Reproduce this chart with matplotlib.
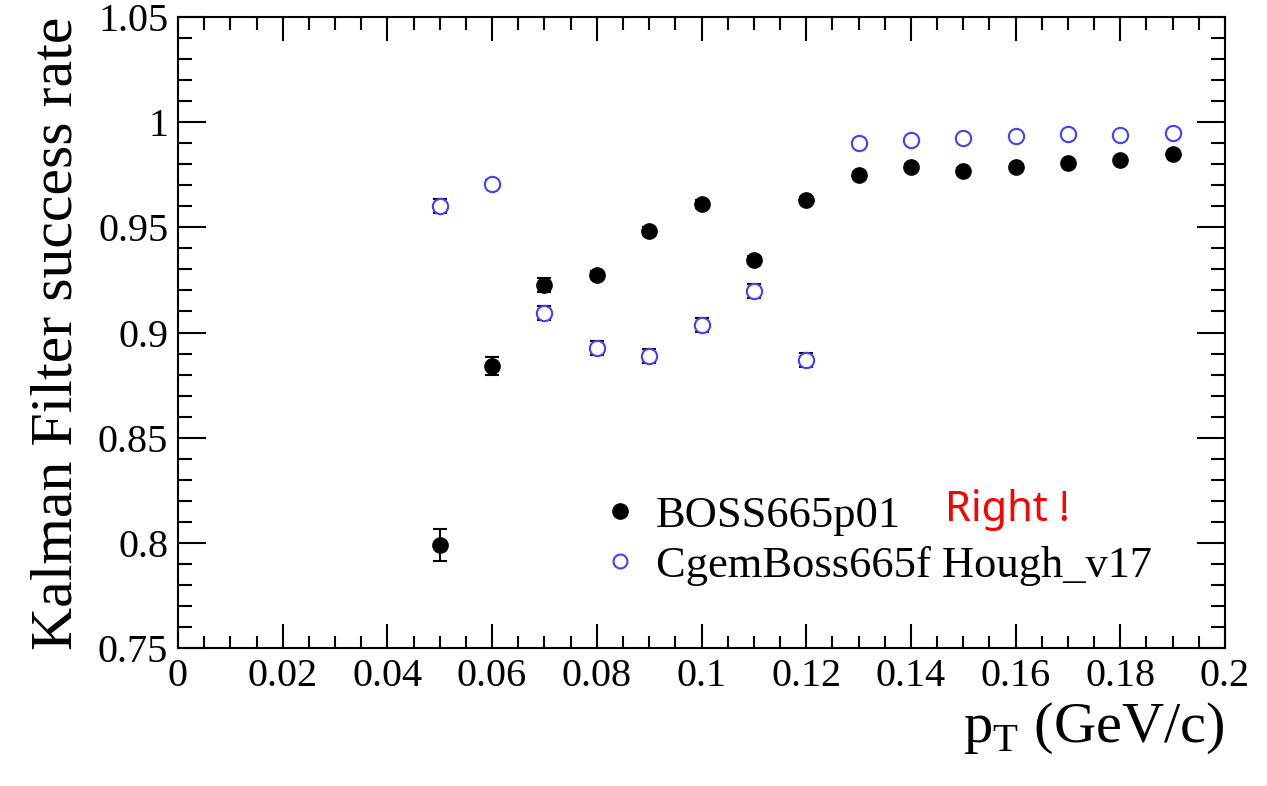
import matplotlib
matplotlib.use("Agg")
import matplotlib.pyplot as plt
from matplotlib.lines import Line2D
from matplotlib.ticker import MultipleLocator, FuncFormatter
import numpy as np

# pT bins (GeV/c)
pt = [0.05, 0.06, 0.07, 0.08, 0.09, 0.10, 0.11, 0.12, 0.13, 0.14, 0.15, 0.16, 0.17, 0.18, 0.19]

# BOSS665p01
boss = [0.799, 0.884, 0.9226, 0.9273, 0.9483, 0.9611, 0.9345, 0.963, 0.9749, 0.9787, 0.9768, 0.9787, 0.9806, 0.982, 0.9849]
boss_err = [0.0078, 0.0042, 0.0035, 0.002, 0.002, 0.0018, 0.002, 0.0015, 0.0012, 0.0012, 0.0012, 0.0012, 0.0011, 0.0011, 0.0010]

# CgemBoss665f Hough_v17
cgem = [0.9601, 0.9706, 0.9093, 0.8926, 0.8888, 0.9036, 0.9197, 0.887, 0.9901, 0.9915, 0.9925, 0.9934, 0.9944, 0.9941, 0.9948]
cgem_err = [0.0033, 0.002, 0.0033, 0.0035, 0.0035, 0.0034, 0.0033, 0.0033, 0.001, 0.001, 0.001, 0.001, 0.001, 0.001, 0.001]

serif = "Liberation Serif"
plt.rcParams["font.family"] = serif

fig = plt.figure(figsize=(12.67, 7.86), dpi=100)
ax = fig.add_axes([178/1267, 1-648/786, (1225-178)/1267, (648-17)/786])

ax.errorbar(pt, boss, yerr=boss_err, fmt="o", color="black", ms=11, ecolor="black",
            elinewidth=1.5, capsize=5, capthick=1.5, zorder=3)
ax.errorbar(pt, cgem, yerr=cgem_err, fmt="o", color="#4040ff", mfc="white", mec="#4040ff",
            mew=1.5, ms=11, ecolor="black", elinewidth=1.5, capsize=5, capthick=1.5, zorder=3)

ax.set_xlim(0, 0.2)
ax.set_ylim(0.75, 1.05)

ax.xaxis.set_major_locator(MultipleLocator(0.02))
ax.xaxis.set_minor_locator(MultipleLocator(0.005))
ax.yaxis.set_major_locator(MultipleLocator(0.05))
ax.yaxis.set_minor_locator(MultipleLocator(0.01))
ax.xaxis.set_major_formatter(FuncFormatter(lambda v, p: "%g" % round(v, 3)))
ax.yaxis.set_major_formatter(FuncFormatter(lambda v, p: "%g" % round(v, 3)))

ax.tick_params(which="both", direction="in", top=True, right=True, width=1.5,
               labelsize=29, pad=7)
ax.tick_params(axis="x", which="major", length=17)
ax.tick_params(axis="x", which="minor", length=9)
ax.tick_params(axis="y", which="major", length=20)
ax.tick_params(axis="y", which="minor", length=10)
for s in ax.spines.values():
    s.set_linewidth(1.5)

ax.set_xlabel(r"p$_{\mathregular{T}}$ (GeV/c)", fontsize=42, loc="right", labelpad=4)
ax.set_ylabel("Kalman Filter success rate", fontsize=43, loc="top", labelpad=10)

handles = [
    Line2D([], [], marker="o", ls="none", color="black", ms=11),
    Line2D([], [], marker="o", ls="none", mfc="white", mec="#4040ff", mew=1.5, ms=10),
]
ax.legend(handles, ["BOSS665p01", "CgemBoss665f Hough_v17"], loc="upper left",
          bbox_to_anchor=(580/1267, 1-478/786), bbox_transform=fig.transFigure,
          frameon=False, fontsize=32, handletextpad=0.3, labelspacing=0.22,
          handlelength=1.0, borderaxespad=0)

fig.text(945/1267, 1-510/786, "Right !", color="red", fontsize=30,
         family="Noto Sans", va="center", ha="left")

fig.savefig("out.png", dpi=100)
